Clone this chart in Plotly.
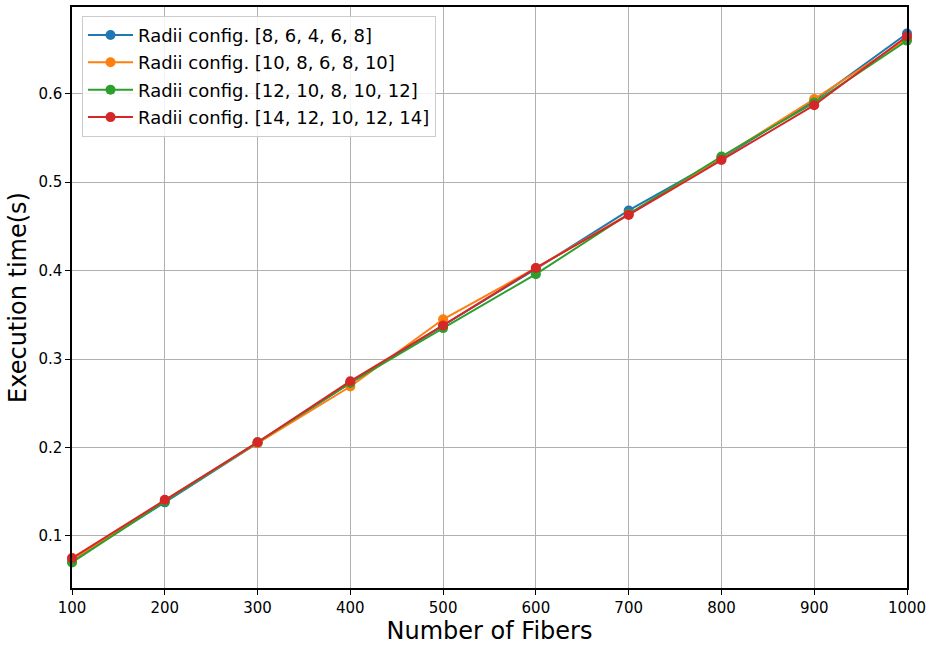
import plotly.graph_objects as go

fibers = [100, 200, 300, 400, 500, 600, 700, 800, 900, 1000]

time_r8 = [0.072, 0.138, 0.205, 0.273, 0.338, 0.402, 0.468, 0.527, 0.592, 0.668]
time_r10 = [0.073, 0.140, 0.205, 0.269, 0.345, 0.403, 0.464, 0.528, 0.594, 0.662]
time_r12 = [0.070, 0.139, 0.206, 0.273, 0.335, 0.396, 0.464, 0.529, 0.590, 0.660]
time_r14 = [0.075, 0.141, 0.206, 0.275, 0.338, 0.403, 0.463, 0.525, 0.587, 0.665]

labels = [
    "Radii config. [8, 6, 4, 6, 8]",
    "Radii config. [10, 8, 6, 8, 10]",
    "Radii config. [12, 10, 8, 10, 12]",
    "Radii config. [14, 12, 10, 12, 14]",
]
colors = ["#1f77b4", "#ff7f0e", "#2ca02c", "#d62728"]

fig = go.Figure()
for i, (ys, name) in enumerate(zip([time_r8, time_r10, time_r12, time_r14], labels)):
    fig.add_trace(go.Scatter(
        x=fibers, y=ys, name=name, mode="lines+markers",
        line=dict(color=colors[i], width=2),
        marker=dict(color=colors[i], size=10),
        legendgroup=f"g{i}",
        cliponaxis=False,
    ))

axis_common = dict(
    showline=True, linecolor="black", linewidth=1.5, mirror=True,
    ticks="outside", ticklen=5, tickcolor="black",
    showgrid=True, gridcolor="#b0b0b0", gridwidth=1,
    zeroline=False,
    tickfont=dict(family="DejaVu Sans", size=15, color="black"),
)

fig.update_xaxes(
    range=[100, 1000], tickvals=fibers,
    title=dict(text="Number of Fibers", font=dict(family="DejaVu Sans", size=24, color="black"), standoff=6),
    **axis_common,
)
fig.update_yaxes(
    range=[0.0412, 0.698], tickvals=[0.1, 0.2, 0.3, 0.4, 0.5, 0.6],
    tickformat=".1f",
    title=dict(text="Execution time(s)", font=dict(family="DejaVu Sans", size=24, color="black"), standoff=5),
    **axis_common,
)

fig.update_layout(
    width=935, height=646,
    margin=dict(l=72, r=28, t=5, b=58),
    plot_bgcolor="white", paper_bgcolor="white",
    font=dict(family="DejaVu Sans", color="black"),
    legend=dict(
        x=0.012, y=0.985, xanchor="left", yanchor="top",
        bgcolor="rgba(255,255,255,0.85)", bordercolor="#cccccc", borderwidth=1,
        font=dict(family="DejaVu Sans", size=18, color="black"),
        tracegroupgap=1, itemwidth=45,
    ),
    showlegend=True,
)

fig.write_html("out.html", config={"displayModeBar": False},
               post_script="document.body.style.margin='0';")
